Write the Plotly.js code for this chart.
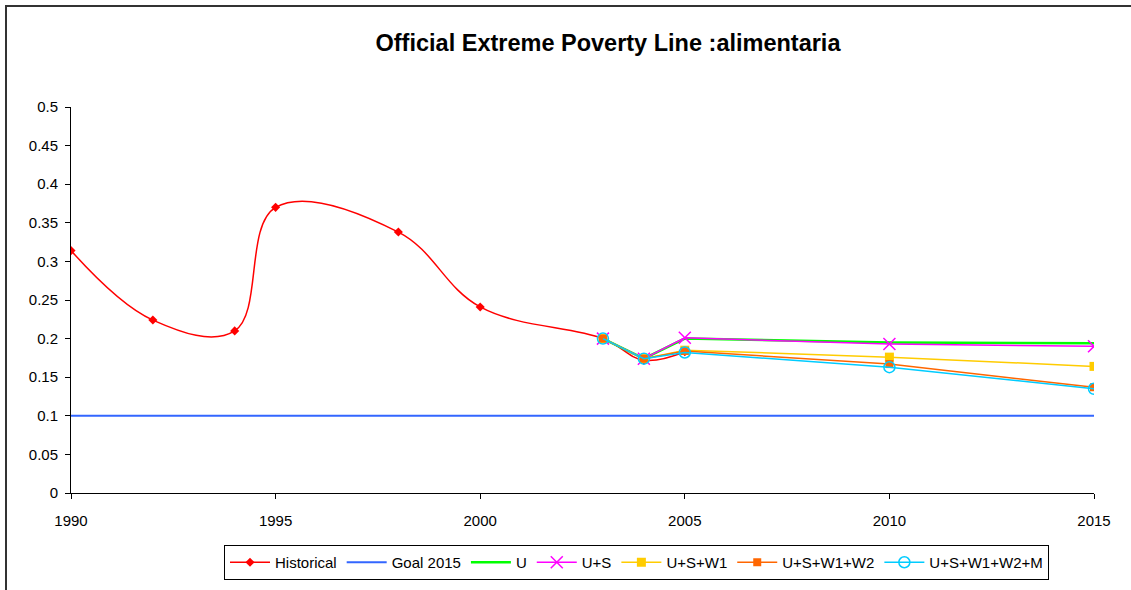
<!DOCTYPE html>
<html>
<head>
<meta charset="utf-8">
<script src="https://cdn.plot.ly/plotly-3.0.1.min.js"></script>
<style>
  html, body { margin: 0; padding: 0; background: #fff; }
  #chart { position: absolute; left: 0; top: 0; width: 1131px; height: 590px; }
  #frame { position: absolute; left: 5px; top: 5px; width: 1200px; height: 700px;
           border-left: 2px solid #333; border-top: 2px solid #333; pointer-events: none; }
</style>
</head>
<body>
<div id="chart"></div>
<div id="frame"></div>
<script>
// ---- data ----
const histYears = [1990, 1992, 1994, 1995, 1998, 2000, 2003, 2004, 2005];
const histValues = [0.314, 0.224, 0.210, 0.370, 0.338, 0.241, 0.200, 0.172, 0.183];

const goalYears = [1990, 2015];
const goalValues = [0.1, 0.1];

const scenYears = [2003, 2004, 2005, 2010, 2015];
const uValues       = [0.200, 0.174, 0.200, 0.195, 0.194];
const usValues      = [0.200, 0.174, 0.201, 0.193, 0.190];
const usw1Values    = [0.200, 0.174, 0.185, 0.176, 0.164];
const usw1w2Values  = [0.200, 0.174, 0.184, 0.167, 0.137];
const usw1w2mValues = [0.200, 0.174, 0.182, 0.163, 0.135];

const seriesNames = ["Historical", "Goal 2015", "U", "U+S", "U+S+W1", "U+S+W1+W2", "U+S+W1+W2+M"];
const titleText = "Official Extreme Poverty Line :alimentaria";

// ---- traces ----
const traces = [
  { x: histYears, y: histValues, name: seriesNames[0], type: "scatter", mode: "lines+markers",
    line: { color: "#FF0000", width: 1.5, shape: "spline", smoothing: 1.1 },
    marker: { symbol: "diamond", size: 7, color: "#FF0000" } },
  { x: goalYears, y: goalValues, name: seriesNames[1], type: "scatter", mode: "lines",
    line: { color: "#3366FF", width: 2 } },
  { x: scenYears, y: uValues, name: seriesNames[2], type: "scatter", mode: "lines",
    line: { color: "#00FF00", width: 2.5 } },
  { x: scenYears, y: usValues, name: seriesNames[3], type: "scatter", mode: "lines+markers",
    line: { color: "#FF00FF", width: 1.5 },
    marker: { symbol: "x-thin-open", size: 12, color: "#FF00FF", line: { color: "#FF00FF", width: 1.5 } } },
  { x: scenYears, y: usw1Values, name: seriesNames[4], type: "scatter", mode: "lines+markers",
    line: { color: "#FFCC00", width: 1.5 },
    marker: { symbol: "square", size: 9, color: "#FFCC00" } },
  { x: scenYears, y: usw1w2Values, name: seriesNames[5], type: "scatter", mode: "lines+markers",
    line: { color: "#FF6600", width: 1.5 },
    marker: { symbol: "square", size: 8, color: "#FF6600" } },
  { x: scenYears, y: usw1w2mValues, name: seriesNames[6], type: "scatter", mode: "lines+markers",
    line: { color: "#00CCFF", width: 1.5 },
    marker: { symbol: "circle-open", size: 11, color: "#00CCFF", line: { color: "#00CCFF", width: 1.5 } } }
];

const W = 1131, H = 590;
const ml = 71, mr = 37, mt = 107, mb = 97;
const pw = W - ml - mr, ph = H - mt - mb;

const layout = {
  width: W, height: H,
  margin: { l: ml, r: mr, t: mt, b: mb, pad: 0, autoexpand: false },
  paper_bgcolor: "rgba(0,0,0,0)",
  plot_bgcolor: "rgba(0,0,0,0)",
  font: { family: "Liberation Sans, Arial, sans-serif", size: 14, color: "#000" },
  title: { text: "<b>" + titleText + "</b>", font: { size: 23.5, color: "#000" },
           x: 608 / W, xanchor: "center", xref: "container",
           y: 1 - 43 / H, yanchor: "middle", yref: "container" },
  xaxis: { range: [1990, 2015], tick0: 1990, dtick: 5, showgrid: false, zeroline: false,
           showline: true, linecolor: "#000", linewidth: 1,
           ticks: "outside", ticklen: 5, tickcolor: "#000", tickwidth: 1,
           ticklabelstandoff: 9, tickfont: { size: 15 } },
  yaxis: { range: [0, 0.5], tick0: 0, dtick: 0.05, showgrid: false, zeroline: false,
           showline: true, linecolor: "#000", linewidth: 1,
           ticks: "outside", ticklen: 5, tickcolor: "#000", tickwidth: 1,
           ticklabelstandoff: 4, tickfont: { size: 15 } },
  showlegend: true,
  legend: { orientation: "h", x: (224 - ml) / pw, xanchor: "left",
            y: (493 - 545) / ph, yanchor: "top",
            bordercolor: "#000", borderwidth: 1, bgcolor: "#fff",
            font: { size: 15 }, itemwidth: 40, traceorder: "normal" }
};

Plotly.newPlot("chart", traces, layout, { displayModeBar: false, staticPlot: true });
</script>
</body>
</html>
